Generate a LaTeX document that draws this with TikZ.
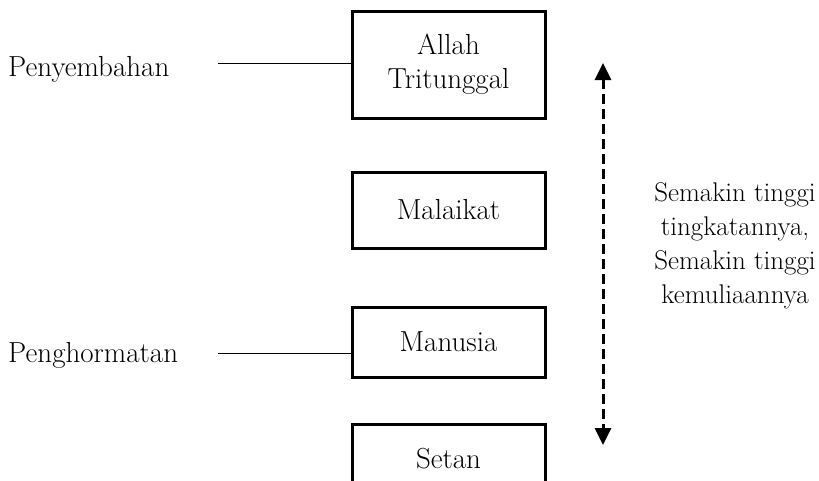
\documentclass[tikz,border=0pt]{standalone}
\usetikzlibrary{arrows.meta}
\begin{document}
\begin{tikzpicture}[x=1pt,y=-1pt,
  levelbox/.style={draw=black,line width=3pt,minimum width=193pt,align=center,inner sep=0pt,font=\fontsize{29}{34}\selectfont},
  sidelabel/.style={anchor=west,inner sep=0pt,font=\fontsize{29}{34}\selectfont},
  thinline/.style={line width=1pt},
  dasharrow/.style={line width=3pt,dash pattern=on 10pt off 5pt,{Triangle[width=16pt,length=17pt]}-{Triangle[width=16pt,length=17pt]}}]
\useasboundingbox (0,0) rectangle (819,480);
\clip (0,0) rectangle (819,480);
\node[levelbox,minimum height=107pt] (allah) at (448.5,64.5) {Allah\\Tritunggal};
\node[levelbox,minimum height=76pt] (malaikat) at (448.5,210) {Malaikat};
\node[levelbox,minimum height=70pt] (manusia) at (448.5,342) {Manusia};
\node[levelbox,minimum height=70pt] (setan) at (448.5,459) {Setan};
\node[sidelabel] (sembah) at (8,69) {Penyembahan};
\node[sidelabel] (hormat) at (8,355) {Penghormatan};
\coordinate (l1) at (218,63);
\coordinate (l2) at (218,353);
\draw[thinline] (l1) -- (l1 -| allah.west);
\draw[thinline] (l2) -- (l2 -| manusia.west);
\coordinate (atop) at (603,63);
\coordinate (abot) at (603,445);
\draw[dasharrow] (atop) -- (abot);
\node[align=center,inner sep=0pt,font=\fontsize{27}{34}\selectfont] (note) at (735,246) {Semakin tinggi\\tingkatannya,\\Semakin tinggi\\kemuliaannya};
\end{tikzpicture}
\end{document}
